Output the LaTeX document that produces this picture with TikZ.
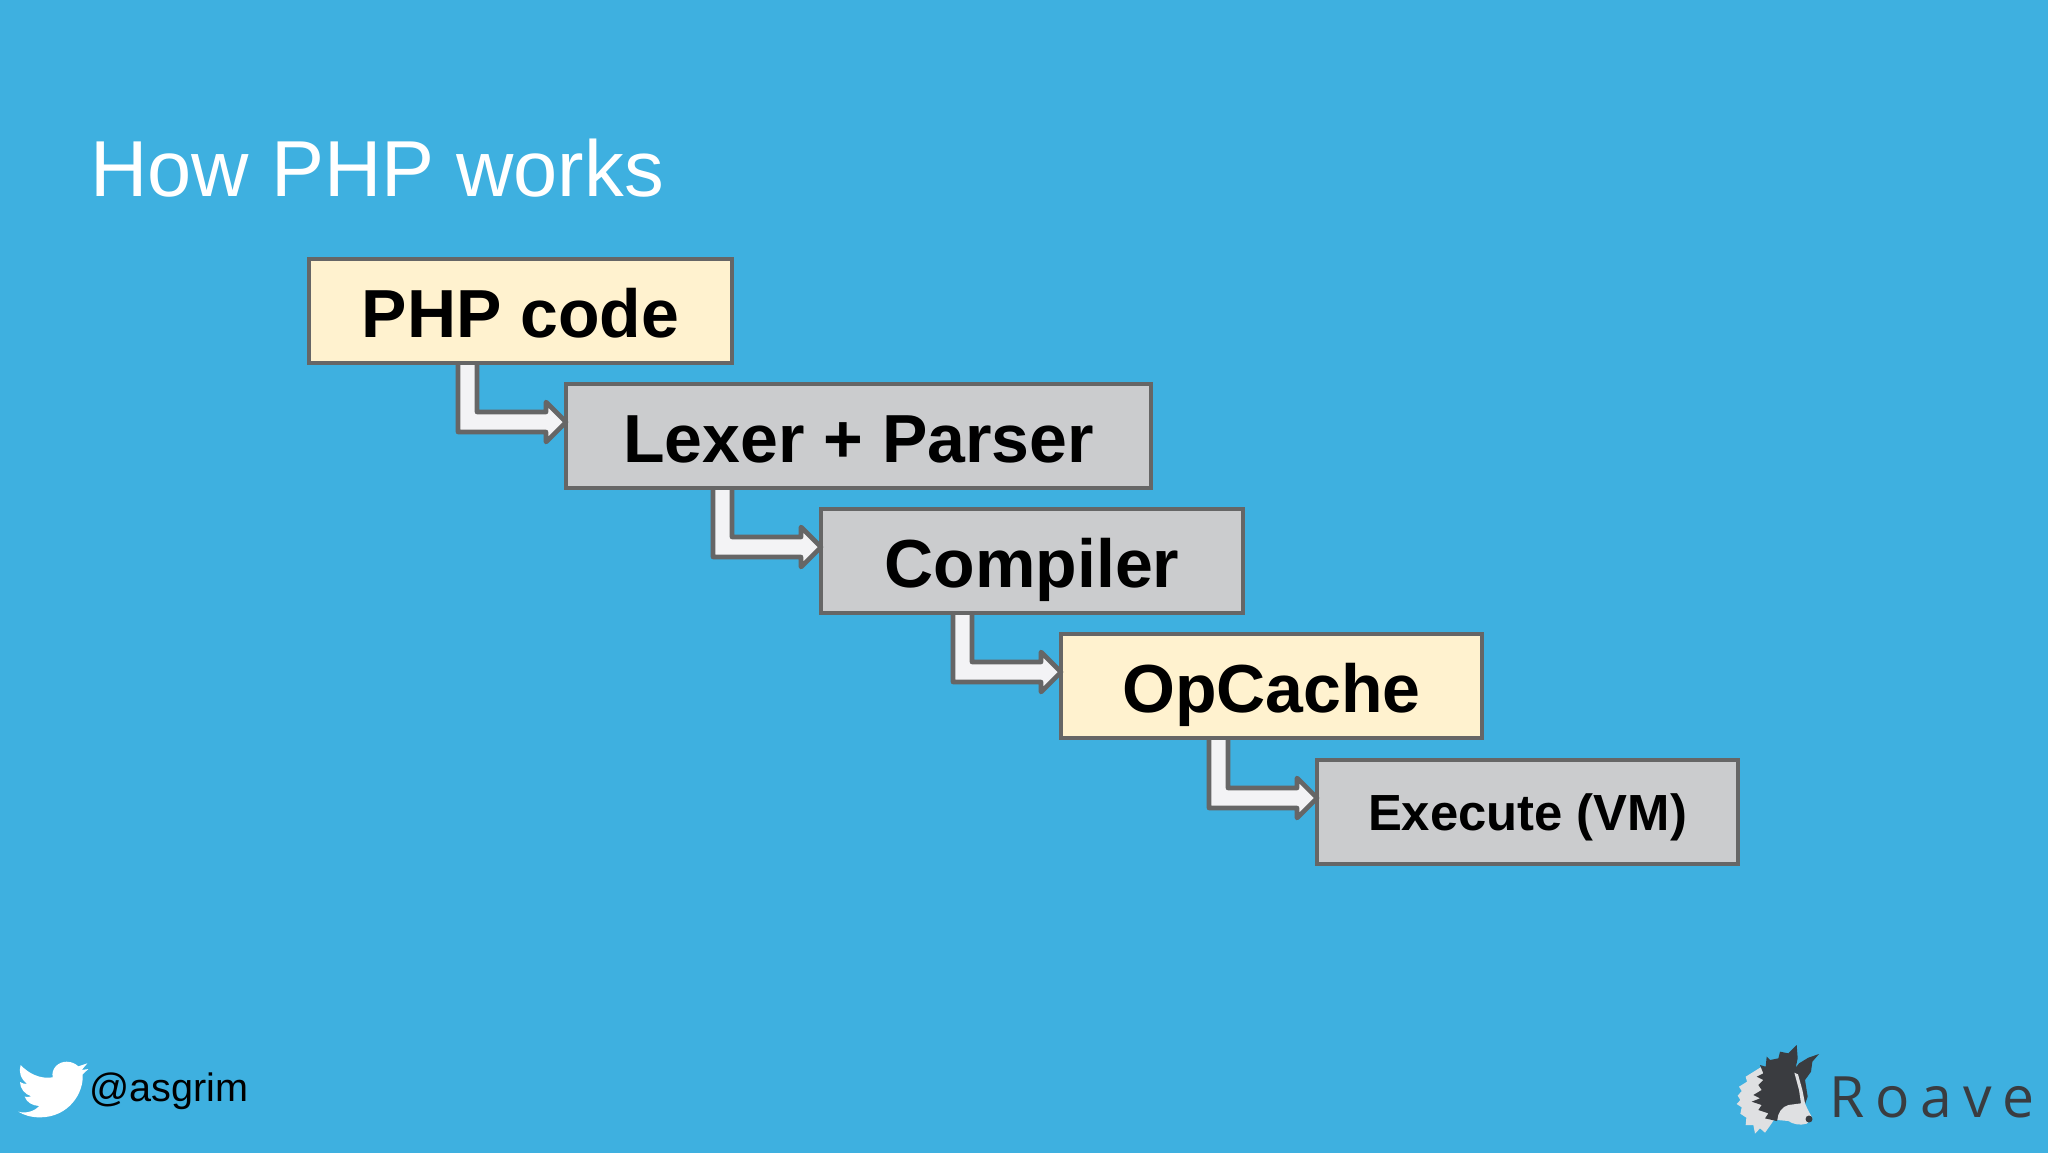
\documentclass[tikz,border=0pt]{standalone}
\usepackage{fontspec}
\setmainfont{Liberation Sans}
\newfontfamily\logofont[LetterSpace=19]{Open Sans}
\usetikzlibrary{calc}
\definecolor{bgblue}{HTML}{3EB0E0}
\definecolor{cream}{HTML}{FFF2CF}
\definecolor{boxgrey}{HTML}{CBCCCE}
\definecolor{edge}{HTML}{666666}
\definecolor{flow}{HTML}{F3F3F5}
\definecolor{logodark}{HTML}{3A3C40}
\definecolor{logolight}{HTML}{DFE0E2}
\tikzset{
  box/.style={draw=edge,line width=2.2pt,outer sep=0pt,inner sep=0pt,anchor=north west,align=center,text=black,font=\bfseries\fontsize{34}{40}\selectfont,text height=26pt,text depth=0pt},
  creambox/.style={box,fill=cream},
  greybox/.style={box,fill=boxgrey},
  flowedge/.style={draw=edge,line width=2.3pt,line join=round},
  flowfill/.style={fill=flow,draw=none}
}
\newcommand{\elbow}[2]{%
  \coordinate (tip) at ($(#2.north west)+(0,38)$);
  \coordinate (lft) at ($(tip)+(-108,0)$);
  \coordinate (rgt) at ($(tip)+(-89,0)$);
  \coordinate (lfs) at ($(lft |- #1.south)+(0,2)$);
  \coordinate (rgs) at ($(rgt |- #1.south)+(0,2)$);
  \fill[flowfill] (lfs) -- ($(tip)+(-108,10)$) -- ($(tip)+(-20,10)$) -- ($(tip)+(-20,20)$) -- (tip) -- ($(tip)+(-20,-20)$) -- ($(tip)+(-20,-10)$) -- ($(tip)+(-89,-10)$) -- (rgs) -- cycle;
  \draw[flowedge] (lfs) -- ($(tip)+(-108,10)$) -- ($(tip)+(-20,10)$) -- ($(tip)+(-20,20)$) -- (tip) -- ($(tip)+(-20,-20)$) -- ($(tip)+(-20,-10)$) -- ($(tip)+(-89,-10)$) -- (rgs);
}
\begin{document}
\begin{tikzpicture}[x=0.5pt,y=-0.5pt]
\useasboundingbox (0,0) rectangle (2048,1152);
\fill[bgblue] (-6,-6) rectangle (2054,1158);

\node[anchor=base west,text=white,font=\fontsize{39.7}{48}\selectfont,inner sep=0pt] (title) at (90,196) {How PHP works};

\node[creambox,minimum width=211.5pt,minimum height=52pt] (php) at (309,259) {PHP code};
\node[greybox,minimum width=292.5pt,minimum height=52pt] (lexer) at (566,384) {Lexer + Parser};
\node[greybox,minimum width=211pt,minimum height=52pt] (compiler) at (821,509) {Compiler};
\node[creambox,minimum width=210.5pt,minimum height=52pt] (opcache) at (1061,634) {OpCache};
\node[greybox,minimum width=210.5pt,minimum height=52pt,font=\bfseries\fontsize{25.4}{30}\selectfont,text height=18.6pt] (exec) at (1317,760) {Execute (VM)};

\elbow{php}{lexer}
\elbow{lexer}{compiler}
\elbow{compiler}{opcache}
\elbow{opcache}{exec}

% Twitter bird
\begin{scope}[shift={(0,1040)},x=0.16667pt,y=-0.16667pt]
\fill[white] (55,215) .. controls (80,222) and (105,212) .. (118,198)
  .. controls (97,197) and (80,187) .. (74,170)
  .. controls (80,171) and (88,171) .. (94,169)
  .. controls (75,163) and (60,146) .. (60,126)
  .. controls (67,130) and (74,132) .. (82,132)
  .. controls (62,117) and (55,95) .. (62,75)
  .. controls (85,100) and (120,118) .. (158,112)
  .. controls (153,85) and (175,65) .. (200,65)
  .. controls (215,65) and (228,72) .. (235,79)
  -- (262,70) -- (245,90) -- (265,87) -- (248,103)
  .. controls (252,160) and (205,232) .. (120,232)
  .. controls (95,232) and (72,226) .. (55,215) -- cycle;
\end{scope}
\node[anchor=base west,text=black,font=\fontsize{19.8}{24}\selectfont,inner sep=0pt] (handle) at (89,1101) {@asgrim};

% Roave logo
\begin{scope}[shift={(1725,1035)},x=0.16667pt,y=-0.16667pt]
\fill[logolight] (110,95) -- (62,125) -- (66,140) -- (42,155) -- (50,168) -- (38,182) -- (46,195) -- (35,207) -- (50,217) -- (46,236) -- (64,248) -- (62,270) -- (85,270) -- (90,296) -- (105,280) -- (120,293) -- (135,272) -- (150,250) -- (130,150) -- cycle;
\fill[logodark] (215,30) -- (190,55) -- (165,50) -- (160,70) -- (135,75) -- (125,65) -- (122,95) -- (105,90) -- (115,115) -- (95,125) -- (115,135) -- (100,150) -- (110,165) -- (85,180) -- (105,190) -- (80,200) -- (110,210) -- (100,225) -- (130,235) -- (120,250) -- (155,258) -- (190,215) -- (240,207) -- (248,185) -- (240,135) -- (258,110) -- (262,80) -- (282,57) -- (250,68) -- (222,85) -- (212,98) -- (218,70) -- cycle;
\fill[logolight] (157,255) .. controls (158,235) and (170,215) .. (190,210) -- (228,205) -- (222,165) -- (208,113) -- (219,118) -- (232,165) -- (240,205) .. controls (248,225) and (255,235) .. (262,250) -- (245,266) .. controls (225,272) and (205,268) .. (190,258) -- cycle;
\fill[logodark] (252,252) circle [radius=1.75pt];
\end{scope}
\node[anchor=base west,text=logodark,font=\logofont\fontsize{28.5}{34}\selectfont,inner sep=0pt] (roave) at (1829,1117) {Roave};
\end{tikzpicture}
\end{document}
